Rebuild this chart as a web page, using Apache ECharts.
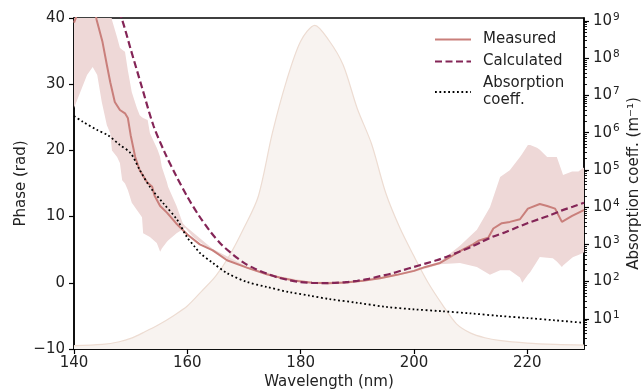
<!DOCTYPE html>
<html>
<head>
<meta charset="utf-8">
<script src="https://cdn.jsdelivr.net/npm/echarts@6/dist/echarts.min.js"></script>
<style>
  html, body { margin: 0; padding: 0; background: #fff; }
  #chart { width: 641px; height: 391px; }
</style>
</head>
<body>
<div id="chart"></div>
<script>
// wavelength grids and values
const wlMeas = [140, 141, 142.5, 143.5, 144, 145, 145.8, 146.4, 147.2, 148.1, 149, 149.5, 150, 150.8, 151.6, 152.9, 153.8, 154.2, 155.2, 156.4, 158, 160, 162.2, 164.5, 167, 170.5, 174, 176.3, 179, 182, 185, 188, 191, 194, 197, 200, 202, 204.6, 207, 208.6, 210.4, 211.5, 213.1, 214, 215.5, 216.9, 218.7, 220.1, 222.2, 223.5, 224.9, 226.1, 227.9, 229.8, 230]
const measured = [39.3, 41.5, 43, 42, 39.7, 36.5, 32.9, 30.3, 27.3, 26.1, 25.6, 24.9, 22.3, 19, 17, 15.2, 14.5, 13.2, 11.6, 10.6, 9.0, 7.3, 5.8, 4.9, 3.4, 2.3, 1.3, 0.8, 0.3, 0, -0.05, 0.05, 0.3, 0.7, 1.2, 1.8, 2.4, 3.0, 4.2, 5.0, 5.8, 6.4, 6.8, 8.2, 9.0, 9.2, 9.6, 11.2, 11.9, 11.6, 11.2, 9.2, 10.1, 10.9, 11]

const wlCalc = [146, 147, 148.5, 150, 152, 154, 156, 158, 160, 162, 164, 166, 168, 170, 172, 174, 176, 178, 180, 182, 184, 186, 188, 190, 192, 194, 196, 198, 200, 202, 204, 206, 208, 210, 212, 214, 216, 218, 220, 222, 224, 226, 228, 230]
const calculated = [45.5, 43, 39.7, 35.3, 29.5, 23.8, 19.7, 16.2, 13.0, 10.2, 7.8, 5.8, 4.3, 3.0, 2.1, 1.4, 0.8, 0.4, 0.1, 0, -0.05, 0, 0.1, 0.3, 0.6, 1.0, 1.4, 1.9, 2.4, 2.9, 3.4, 4.0, 4.7, 5.4, 6.2, 7.0, 7.6, 8.3, 9.0, 9.6, 10.2, 10.9, 11.5, 12.1]

const wlAbs = [140, 141.6, 144, 146, 148, 150, 151.6, 153.4, 155.7, 158.2, 159.9, 161.4, 162.2, 164.5, 167, 170.5, 174, 178, 181.6, 185, 190, 195, 200, 205, 210, 215, 220, 225, 230]
const absorption = [2.8e6, 1.95e6, 1.2e6, 8.5e5, 4.8e5, 2.8e5, 1.0e5, 3.5e4, 1.3e4, 4.6e3, 1.6e3, 830, 590, 316, 170, 98, 72, 52, 42, 34, 27, 21, 18, 16, 14, 12, 10.5, 9.1, 7.8]

const wlBand = [140, 141.1, 142.3, 143.3, 144.1, 144.9, 145.8, 146.4, 146.7, 147.6, 148.1, 148.5, 149, 149.5, 150.2, 151.1, 151.6, 152, 152.2, 153, 153.4, 154.6, 154.8, 155.2, 155.5, 156.4, 156.6, 158.1, 159.2, 159.6, 161, 164.5, 170.5, 176.3, 182, 188, 194, 200, 204.6, 208.1, 211.1, 213.4, 215.2, 216.9, 218.7, 219.1, 220.1, 220.5, 221.7, 222.2, 223.5, 224.5, 225.2, 226.1, 226.3, 227.9, 228.1, 229, 229.8, 230]
const bandLow = [26.4, 28.8, 31.4, 32.6, 31.4, 27.3, 23.8, 22.6, 20, 19, 18.1, 15.5, 15, 14, 12.1, 11, 10.4, 9.9, 7.5, 7.1, 6.9, 6, 5.6, 4.7, 5.2, 6.2, 6.4, 7.5, 8.1, 8.3, 6.9, 4.7, 2.15, 0.65, -0.15, -0.1, 0.55, 1.65, 2.8, 3.0, 2.4, 1.2, 1.9, 1.9, 0.8, 0, 1.2, 1.6, 3.2, 3.9, 3.8, 3.7, 3.2, 2.4, 2.6, 3.8, 3.9, 4.2, 4.5, 4.6]
const bandHigh = [48, 48, 48, 47, 46.5, 46, 44, 42, 39.7, 37.1, 35.5, 35.2, 34.9, 32.1, 28.8, 26.4, 25.3, 25, 24.9, 24.6, 22.6, 20.4, 20, 19, 17.5, 15.2, 14.5, 11.6, 9, 8.6, 7.6, 5.1, 2.45, 0.95, 0.15, 0.2, 0.85, 1.95, 3.2, 5.6, 8, 11.4, 16, 17, 19, 19.5, 20.8, 20.8, 20.4, 20.1, 19, 19, 19, 16.8, 16.3, 16.8, 16.8, 16.8, 17.3, 17.4]

const wlSpec = [140, 145, 148, 150, 152.5, 155, 157.5, 160, 162.5, 165, 167.5, 170, 172.5, 175, 177.5, 180, 182.5, 185, 187.5, 190, 192.5, 195, 197.5, 200, 202.5, 205, 207.5, 210, 212.5, 215, 220, 225, 230]
const spectrum = [-9.5, -9.3, -8.9, -8.4, -7.4, -6.3, -5.0, -3.5, -1.3, 1.0, 4.2, 8.3, 13, 22.6, 30.5, 36.5, 38.9, 36.6, 32.9, 26.3, 21, 13.6, 8.3, 4, 0, -3.3, -6.2, -7.6, -8.3, -8.7, -9.1, -9.3, -9.4]

const wlTicks = [140, 160, 180, 200, 220]
const absTicks = [1e1, 1e2, 1e3, 1e4, 1e5, 1e6, 1e7, 1e8, 1e9]
const minorMult = [2, 3, 4, 5, 6, 7, 8, 9]
const minorDecades = [1, 1e1, 1e2, 1e3, 1e4, 1e5, 1e6, 1e7, 1e8]

const pairs = (xs, ys) => xs.map((x, i) => [x, ys[i]])
const font = 'DejaVu Sans'
const absMin = Math.pow(10, 0.19)
const absMax = Math.pow(10, 9.08)
let minorTicks = []
minorDecades.forEach(d => {
  minorMult.forEach(m => {
    minorTicks.push(m * d)
  })
})

// shaded band between bandLow and bandHigh, drawn as one polygon
function renderBand (params, api) {
  if (params.dataIndex !== 0) {
    return
  }
  let points = []
  wlBand.forEach((x, i) => {
    points.push(api.coord([x, bandHigh[i]]))
  })
  for (let i = wlBand.length - 1; i >= 0; i--) {
    points.push(api.coord([wlBand[i], bandLow[i]]))
  }
  return {
    type: 'polygon',
    shape: { points: points },
    style: { fill: '#eed8d7' }
  }
}

let myChart = echarts.init(document.getElementById('chart'))
let option = {
  animation: false,
  grid: {
    left: 74,
    right: 57,
    top: 18,
    bottom: 42,
    outerBoundsMode: 'none',
    show: true,
    borderColor: '#000',
    borderWidth: 1.5
  },
  legend: {
    orient: 'vertical',
    left: 429,
    top: 26,
    itemWidth: 36,
    itemHeight: 14,
    itemGap: 5,
    data: ['Measured', 'Calculated', 'Absorption coeff.'],
    itemStyle: { opacity: 0 },
    formatter: function (name) {
      return name === 'Absorption coeff.' ? 'Absorption\ncoeff.' : name
    },
    textStyle: {
      fontFamily: font,
      fontSize: 15,
      lineHeight: 17,
      color: '#222',
      padding: [0, 0, 0, 7]
    }
  },
  xAxis: {
    type: 'value',
    min: 140,
    max: 230,
    name: 'Wavelength (nm)',
    nameLocation: 'middle',
    nameGap: 26,
    nameMoveOverlap: false,
    nameTextStyle: { fontFamily: font, fontSize: 15, color: '#222' },
    axisLine: { onZero: false, lineStyle: { color: '#000', width: 1.5 } },
    axisTick: { length: 5, lineStyle: { color: '#000', width: 1.2 }, customValues: wlTicks },
    axisLabel: { fontFamily: font, fontSize: 15, color: '#222', margin: 7, customValues: wlTicks },
    splitLine: { show: false }
  },
  yAxis: [{
    type: 'value',
    min: -10,
    max: 40,
    interval: 10,
    name: 'Phase (rad)',
    nameLocation: 'middle',
    nameGap: 45,
    nameMoveOverlap: false,
    nameTextStyle: { fontFamily: font, fontSize: 15, color: '#222' },
    axisLine: { show: true, onZero: false, lineStyle: { color: '#000', width: 1.5 } },
    axisTick: { show: true, length: 5, lineStyle: { color: '#000', width: 1.2 } },
    axisLabel: {
      fontFamily: font,
      fontSize: 15,
      color: '#222',
      margin: 9,
      formatter: function (v) {
        return String(v).replace('-', '\u2212')
      }
    },
    splitLine: { show: false }
  }, {
    type: 'log',
    logBase: 10,
    min: absMin,
    max: absMax,
    position: 'right',
    name: 'Absorption coeff. (m\u207B\u00B9)',
    nameLocation: 'middle',
    nameGap: 43,
    nameMoveOverlap: false,
    nameRotate: 90,
    nameTextStyle: { fontFamily: font, fontSize: 15, color: '#222' },
    axisLine: { show: true, onZero: false, lineStyle: { color: '#000', width: 1.5 } },
    axisTick: { show: true, length: 5, lineStyle: { color: '#000', width: 1.2 }, customValues: absTicks },
    axisLabel: {
      fontFamily: font,
      color: '#222',
      margin: 9,
      customValues: absTicks,
      formatter: function (v) {
        return '{b|10}{s|' + Math.round(Math.log10(v)) + '}'
      },
      rich: {
        b: { fontFamily: font, fontSize: 15, color: '#222' },
        s: { fontFamily: font, fontSize: 10.5, color: '#222', padding: [0, 0, 8, 1] }
      }
    },
    splitLine: { show: false }
  }, {
    // minor ticks of the log axis
    type: 'log',
    logBase: 10,
    min: absMin,
    max: absMax,
    position: 'right',
    offset: 0,
    axisLine: { show: false, onZero: false },
    axisTick: { show: true, length: 3, lineStyle: { color: '#000', width: 0.9 }, customValues: minorTicks },
    axisLabel: { show: false },
    splitLine: { show: false }
  }],
  series: [{
    name: 'spectrum',
    type: 'line',
    data: pairs(wlSpec, spectrum),
    symbol: 'none',
    smooth: 0.3,
    silent: true,
    z: 1,
    lineStyle: { color: '#eddcd2', width: 1.2 },
    areaStyle: { color: '#f8f3f0', opacity: 1, origin: 'start' }
  }, {
    name: 'band',
    type: 'custom',
    data: wlBand.map((x, i) => [x, bandLow[i], bandHigh[i]]),
    renderItem: renderBand,
    clip: true,
    silent: true,
    z: 2
  }, {
    name: 'Measured',
    type: 'line',
    data: pairs(wlMeas, measured),
    symbol: 'none',
    z: 3,
    itemStyle: { color: '#c97f7b' },
    lineStyle: { color: '#c97f7b', width: 2 }
  }, {
    name: 'Calculated',
    type: 'line',
    data: pairs(wlCalc, calculated),
    symbol: 'none',
    smooth: 0.3,
    z: 4,
    itemStyle: { color: '#842557' },
    lineStyle: { color: '#842557', width: 2.2, type: [7, 3.5] }
  }, {
    name: 'Absorption coeff.',
    type: 'line',
    yAxisIndex: 1,
    data: pairs(wlAbs, absorption),
    symbol: 'none',
    smooth: 0.3,
    z: 5,
    itemStyle: { color: '#000' },
    lineStyle: { color: '#000', width: 1.8, type: [1.8, 2.6] }
  }]
}
if (option && typeof option === 'object') {
  myChart.setOption(option, true)
}
</script>
</body>
</html>
